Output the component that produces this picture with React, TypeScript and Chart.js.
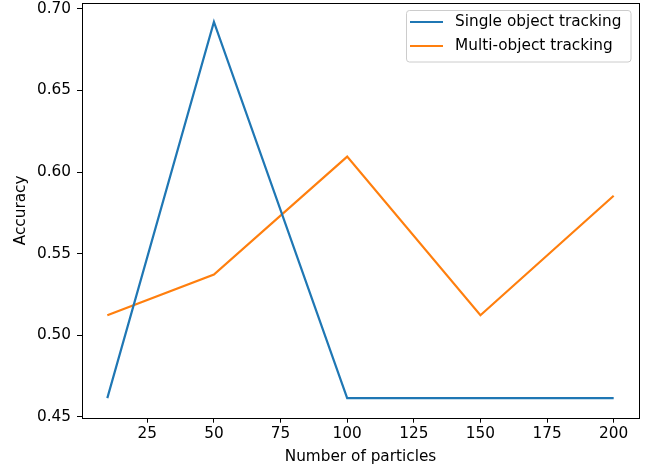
import React, { useEffect, useRef } from "react";
import { Chart, registerables } from "chart.js";

Chart.register(...registerables);

const particles = [10, 50, 100, 150, 200];
const singleObject = [0.4615, 0.692, 0.4615, 0.4615, 0.4615];
const multiObject = [0.5123, 0.5372, 0.6095, 0.5123, 0.5855];
const seriesLabels = ["Single object tracking", "Multi-object tracking"];
const seriesColors = ["#1f77b4", "#ff7f0e"];
const xTicks = [25, 50, 75, 100, 125, 150, 175, 200];
const yTicks = [0.45, 0.5, 0.55, 0.6, 0.65, 0.7];
const xTitle = "Number of particles";
const yTitle = "Accuracy";

const FONT = "DejaVu Sans";
const FS = 15.3;

const framePlugin = {
  id: "frameAndLegend",
  afterDraw(chart: any) {
    const { ctx, chartArea } = chart;
    const { left, top, right, bottom } = chartArea;
    ctx.save();
    ctx.strokeStyle = "#000";
    ctx.lineWidth = 1;
    ctx.strokeRect(Math.round(left) + 0.5, Math.round(top) + 0.5, Math.round(right - left), Math.round(bottom - top));
    ctx.fillStyle = "#000";
    ctx.font = `${FS}px "${FONT}"`;
    ctx.textAlign = "center";
    ctx.textBaseline = "middle";
    ctx.fillText(xTitle, (left + right) / 2, 457);
    ctx.save();
    ctx.translate(21, (top + bottom) / 2);
    ctx.rotate(-Math.PI / 2);
    ctx.fillText(yTitle, 0, 0);
    ctx.restore();
    const bx = 406.5, by = 10.5, bw = 224.5, bh = 51.5, r = 3;
    ctx.beginPath();
    ctx.moveTo(bx + r, by);
    ctx.lineTo(bx + bw - r, by);
    ctx.arcTo(bx + bw, by, bx + bw, by + r, r);
    ctx.lineTo(bx + bw, by + bh - r);
    ctx.arcTo(bx + bw, by + bh, bx + bw - r, by + bh, r);
    ctx.lineTo(bx + r, by + bh);
    ctx.arcTo(bx, by + bh, bx, by + bh - r, r);
    ctx.lineTo(bx, by + r);
    ctx.arcTo(bx, by, bx + r, by, r);
    ctx.closePath();
    ctx.fillStyle = "rgba(255,255,255,0.8)";
    ctx.fill();
    ctx.strokeStyle = "#cccccc";
    ctx.lineWidth = 1;
    ctx.stroke();
    ctx.textAlign = "left";
    ctx.textBaseline = "middle";
    seriesLabels.forEach((lab, i) => {
      const y = 22 + i * 24;
      ctx.strokeStyle = seriesColors[i];
      ctx.lineWidth = 2.2;
      ctx.beginPath();
      ctx.moveTo(410, y);
      ctx.lineTo(443, y);
      ctx.stroke();
      ctx.fillStyle = "#000";
      ctx.fillText(lab, 455, y);
    });
    ctx.restore();
  },
};

export default function App() {
  const ref = useRef<HTMLCanvasElement | null>(null);
  useEffect(() => {
    if (!ref.current) return;
    const tickFont = { family: FONT, size: FS };
    const chart = new Chart(ref.current, {
      type: "line",
      data: {
        datasets: [
          {
            label: seriesLabels[0],
            data: particles.map((x, i) => ({ x, y: singleObject[i] })),
            borderColor: seriesColors[0],
            backgroundColor: seriesColors[0],
            borderWidth: 2.2,
            pointRadius: 0,
            tension: 0,
          },
          {
            label: seriesLabels[1],
            data: particles.map((x, i) => ({ x, y: multiObject[i] })),
            borderColor: seriesColors[1],
            backgroundColor: seriesColors[1],
            borderWidth: 2.2,
            pointRadius: 0,
            tension: 0,
          },
        ],
      },
      options: {
        animation: false,
        responsive: false,
        devicePixelRatio: 1,
        layout: { padding: { top: 3, right: 8, left: 0, bottom: 0 } },
        plugins: { legend: { display: false }, tooltip: { enabled: false } },
        scales: {
          x: {
            type: "linear",
            min: 0.5,
            max: 209.5,
            afterBuildTicks: (axis: any) => {
              axis.ticks = xTicks.map((v) => ({ value: v }));
            },
            afterFit: (axis: any) => {
              axis.height = 52.3;
              axis.paddingLeft = 0;
              axis.paddingRight = 0;
              axis.paddingTop = 0;
              axis.paddingBottom = 0;
            },
            grid: { display: true, drawOnChartArea: false, drawTicks: true, tickLength: 5, color: "#000", tickWidth: 1 },
            border: { display: false },
            ticks: { color: "#000", font: tickFont, padding: 2, maxRotation: 0, autoSkip: false },
          },
          y: {
            type: "linear",
            min: 0.4495,
            max: 0.7036,
            afterBuildTicks: (axis: any) => {
              axis.ticks = yTicks.map((v) => ({ value: v }));
            },
            afterFit: (axis: any) => {
              axis.width = 82;
              axis.paddingTop = 0;
              axis.paddingBottom = 0;
              axis.paddingLeft = 0;
              axis.paddingRight = 0;
            },
            grid: { display: true, drawOnChartArea: false, drawTicks: true, tickLength: 5, color: "#000", tickWidth: 1 },
            border: { display: false },
            ticks: {
              color: "#000",
              font: tickFont,
              padding: 6,
              autoSkip: false,
              callback: (v: any) => Number(v).toFixed(2),
            },
          },
        },
      },
      plugins: [framePlugin],
    } as any);
    return () => chart.destroy();
  }, []);
  return (
    <div style={{ position: "fixed", left: 0, top: 0, width: 647, height: 470, background: "#fff" }}>
      <canvas ref={ref} width={647} height={470} style={{ width: 647, height: 470, display: "block" }} />
    </div>
  );
}
